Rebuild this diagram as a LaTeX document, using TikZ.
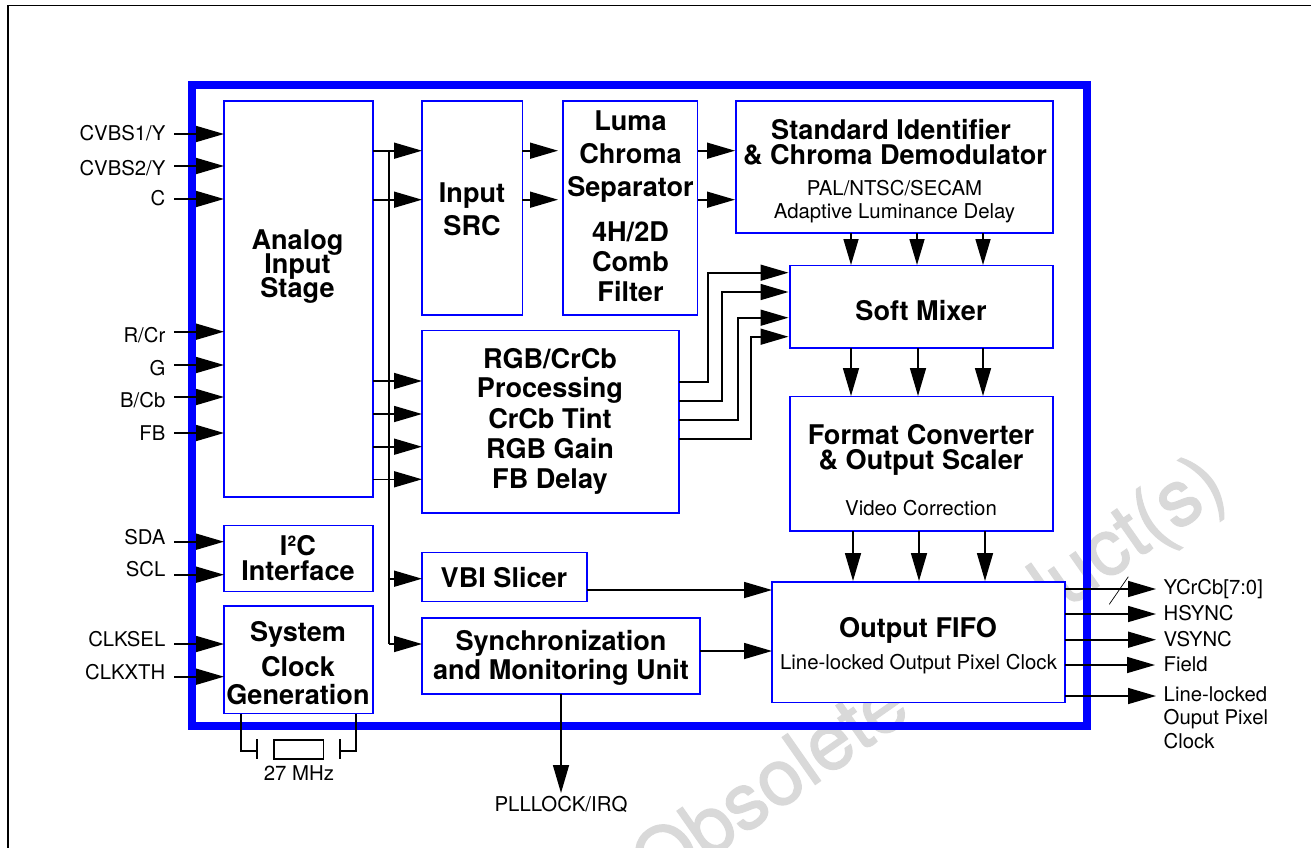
\documentclass[tikz,border=0pt]{standalone}
\usepackage{fontspec}
\setmainfont{TeX Gyre Heros}
\newfontfamily\wmfont[FakeBold=1.5]{TeX Gyre Heros}
\usetikzlibrary{arrows.meta}
\definecolor{bblue}{RGB}{0,0,255}
\definecolor{wmgray}{RGB}{217,217,217}
\lineskiplimit=-100pt
\newcommand{\blk}[5]{%
  \pgfmathsetmacro\myBw{#4-#2}\pgfmathsetmacro\myBh{#5-#3}%
  \pgfmathsetmacro\myBx{(#2+#4)/2}\pgfmathsetmacro\myBy{(#3+#5)/2}%
  \node[blockbox,minimum width=\myBw pt,minimum height=\myBh pt] (#1) at (\myBx,\myBy) {};}
\tikzset{
  blockbox/.style={draw=bblue,fill=white,line width=1.5pt,inner sep=0pt,outer sep=0pt},
  conn/.style={draw=black,line width=1.6pt},
  arr/.style={conn,-{Triangle[length=28pt,width=16pt]}},
  sarr/.style={conn,-{Triangle[length=26pt,width=15pt]}},
  btxt/.style={font=\fontsize{27.1}{#1}\selectfont\bfseries,align=center,inner sep=0pt,anchor=base},
  rtxt/.style={font=\fontsize{20.4}{#1}\selectfont,align=center,inner sep=0pt,anchor=base},
  inlab/.style={font=\fontsize{20.3}{24}\selectfont,inner sep=0pt,anchor=base east},
  outlab/.style={font=\fontsize{20.3}{23.5}\selectfont,inner sep=0pt,anchor=base west,align=left},
}
\begin{document}
\begin{tikzpicture}[x=1pt,y=-1pt]
\useasboundingbox (0,0) rectangle (1311,848);
% page frame
\draw[black,line width=1.5pt] (8,848) -- (8,5.7) -- (1311,5.7);
% watermark
\node[font=\wmfont\fontsize{79}{79}\selectfont,text=wmgray,rotate=35,anchor=base west,inner sep=0pt] (wm) at (656,896) {Obsolete Product(s)};
% outer frame
\node[draw=bblue,line width=8pt,minimum width=895pt,minimum height=641pt,inner sep=0pt,outer sep=0pt] (chip) at (639.5,405.5) {};
% blocks
\blk{analog}{224}{101}{373}{497}
\blk{src}{422}{101}{522.3}{315}
\blk{luma}{563}{101}{697.7}{315}
\blk{std}{736}{101}{1053}{233}
\blk{soft}{790}{265.7}{1053}{348}
\blk{rgb}{422}{330.7}{679}{513}
\blk{fmt}{790}{396.7}{1053}{531}
\blk{fifo}{772}{582}{1065}{702.7}
\blk{vbi}{422}{552.7}{587}{601.7}
\blk{sync}{422}{618}{700}{694}
\blk{iic}{224}{525.7}{373}{591.7}
\blk{sys}{224}{606}{373}{713.7}
% block texts
\node[btxt=24] (analogT) at (297.5,297.3) {Analog\\Input\\Stage};
\node[btxt=32.3] (srcT) at (472,235) {Input\\SRC};
\node[btxt=33] (lumaT) at (630.5,196.5) {Luma\\Chroma\\Separator};
\node[btxt=30] (combT) at (630.5,301.5) {4H/2D\\Comb\\Filter};
\node[btxt=25.3] (stdT) at (895,164.3) {Standard Identifier\rule{8pt}{0pt}\\\& Chroma Demodulator};
\node[rtxt=23.3] (stdS) at (894.5,218.3) {PAL/NTSC/SECAM\\Adaptive Luminance Delay};
\node[btxt=24] (softT) at (921,320) {Soft Mixer};
\node[btxt=25] (fmtT) at (921,469) {Format Converter\\\& Output Scaler};
\node[rtxt=24] (fmtS) at (921,515) {Video Correction};
\node[btxt=29] (rgbT) at (550,488) {RGB/CrCb\\Processing\\[2pt]CrCb Tint\\[1pt]RGB Gain\\[1pt]FB Delay};
\node[btxt=24] (vbiT) at (504,587) {VBI Slicer};
\node[btxt=29] (syncT) at (561,679.5) {Synchronization\\and Monitoring Unit};
\node[btxt=25.3] (iicT) at (298,580.3) {I²C\\Interface};
\node[btxt=28.5] (sysT) at (298,704.5) {System\\[6pt]Clock\\Generation};
\node[btxt=24] (fifoT) at (918,637) {Output FIFO};
\node[rtxt=24] (fifoS) at (918.5,669) {Line-locked Output Pixel Clock};
% input labels
\node[inlab] (lCa) at (165.5,140.7) {CVBS1/Y};
\node[inlab] (lCb) at (165.5,175) {CVBS2/Y};
\node[inlab] (lC) at (165.5,205) {C};
\node[inlab] (lR) at (165.5,342) {R/Cr};
\node[inlab] (lG) at (165.5,375) {G};
\node[inlab] (lB) at (165.5,407) {B/Cb};
\node[inlab] (lFB) at (165.5,440) {FB};
\node[inlab] (lSDA) at (165.5,544) {SDA};
\node[inlab] (lSCL) at (165.5,576) {SCL};
\node[inlab] (lSEL) at (165.5,646) {CLKSEL};
\node[inlab] (lXTH) at (165.5,679) {CLKXTH};
% input arrows
\foreach \nm/\yy/\tg in {iCa/134/analog,iCb/166/analog,iC/199/analog,iR/331.7/analog,iG/365/analog,iB/397/analog,iFB/433/analog,iSDA/541.7/iic,iSCL/574.7/iic,iSEL/644/sys,iXTH/676.7/sys}{
  \coordinate (\nm) at (174,\yy);
  \draw[arr] (\nm) -- (\nm -| \tg.west);
}
% analog bus
\coordinate (busTop) at (389,150.7);
\coordinate (busBot) at (389,644);
\draw[conn,line join=miter] (busTop) -- (busBot);
\draw[arr] (analog.east |- 0,150.7) -- (src.west |- 0,150.7);
\draw[arr] (analog.east |- 0,199.7) -- (src.west |- 0,199.7);
\draw[arr] (analog.east |- 0,381) -- (rgb.west |- 0,381);
\draw[arr] (analog.east |- 0,414) -- (rgb.west |- 0,414);
\draw[arr] (analog.east |- 0,446.7) -- (rgb.west |- 0,446.7);
\draw[arr] (analog.east |- 0,479.3) -- (rgb.west |- 0,479.3);
\draw[arr] (busTop |- 0,578.7) -- (vbi.west |- 0,578.7);
\draw[arr] (busBot) -- (sync.west |- busBot);
% src -> luma -> std
\draw[arr,shorten >=5pt] (src.east |- 0,150.7) -- (luma.west |- 0,150.7);
\draw[arr,shorten >=5pt] (src.east |- 0,199.7) -- (luma.west |- 0,199.7);
\draw[arr,shorten >=1pt] (luma.east |- 0,150.7) -- (std.west |- 0,150.7);
\draw[arr,shorten >=1pt] (luma.east |- 0,199.7) -- (std.west |- 0,199.7);
% std -> soft -> fmt -> fifo
\foreach \xx in {851,917,983}{\draw[sarr] (\xx,233) -- (\xx,265);}
\foreach \xx in {851,918,983}{\draw[arr] (\xx,348) -- (\xx,396);}
\foreach \xx in {853,919,985}{\draw[arr] (\xx,531) -- (\xx,581);}
% rgb -> soft
\draw[arr,shorten >=1.5pt] (rgb.east |- 0,382) -| (708,272.7) -- (soft.west |- 0,272.7);
\draw[arr,shorten >=1.5pt] (rgb.east |- 0,401) -| (722,292) -- (soft.west |- 0,292);
\draw[arr,shorten >=1.5pt] (rgb.east |- 0,420) -| (738,317.7) -- (soft.west |- 0,317.7);
\draw[arr,shorten >=1.5pt] (rgb.east |- 0,439) -| (750.7,336.7) -- (soft.west |- 0,336.7);
% to fifo
\draw[arr] (vbi.east |- 0,590) -- (fifo.west |- 0,590);
\draw[arr] (sync.east |- 0,651) -- (fifo.west |- 0,651);
% pll
\coordinate (pllTip) at (561,793);
\draw[arr] (sync.south -| pllTip) -- (pllTip);
\node[rtxt=24] (pllL) at (561,811.7) {PLLLOCK/IRQ};
% outputs
\foreach \nm/\yy/\tx in {oY/589/1156,oH/614/1156,oV/639.7/1156,oF/665/1155,oL/696/1156}{
  \coordinate (\nm) at (\tx,\yy);
  \draw[arr] (fifo.east |- \nm) -- (\nm);
}
\coordinate (slashA) at (1109.3,604.3);
\coordinate (slashB) at (1128.3,576.7);
\draw[black,line width=0.7pt] (slashA) -- (slashB);
\node[outlab] (lY) at (1163.5,594) {YCrCb[7:0]};
\node[outlab] (lH) at (1163.5,620) {HSYNC};
\node[outlab] (lV) at (1163.5,646) {VSYNC};
\node[outlab] (lF) at (1163.5,671) {Field};
\node[outlab] (lL) at (1163.5,748) {Line-locked\\Ouput Pixel\\Clock};
% crystal
\node[draw=black,line width=1.4pt,minimum width=49.3pt,minimum height=19pt,inner sep=0pt,outer sep=0pt] (xtal) at (298.7,749.5) {};
\coordinate (plateLt) at (257,739);
\coordinate (plateLb) at (257,759);
\coordinate (plateRt) at (340,739);
\coordinate (plateRb) at (340,759);
\draw[conn] (plateLt) -- (plateLb);
\draw[conn] (plateRt) -- (plateRb);
\draw[conn] (sys.south -| 241,0) |- (257,751);
\draw[conn] (sys.south -| 356,0) |- (340,751);
\node[rtxt=24] (xtalL) at (299,780) {27 MHz};
\end{tikzpicture}
\end{document}
